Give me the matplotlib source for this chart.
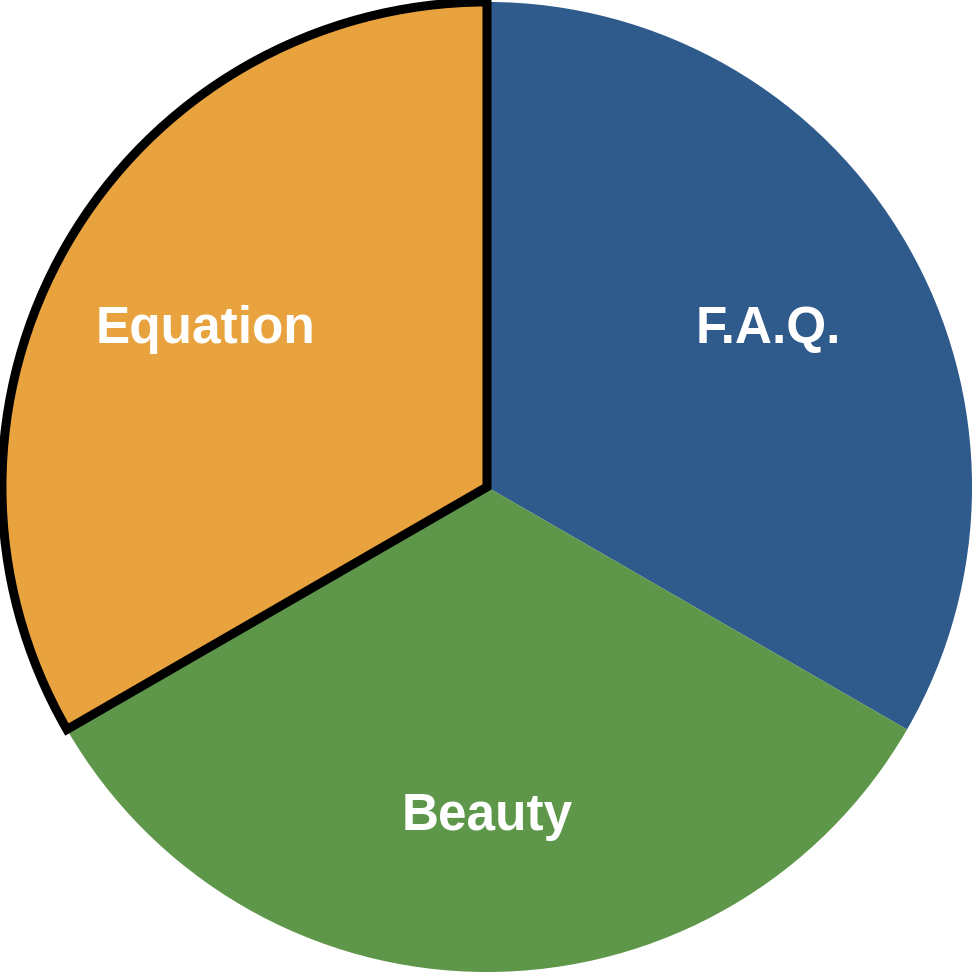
import matplotlib.pyplot as plt

labels = ['F.A.Q.', 'Beauty', 'Equation']
values = [1, 1, 1]
colors = ['#2E5A8C', '#5E974A', '#E8A23E']

fig = plt.figure(figsize=(9.73, 9.72), dpi=100)
ax = fig.add_axes([0, 0, 1, 1])

wedges, texts = ax.pie(values, labels=labels, colors=colors, startangle=90,
                       counterclock=False, labeldistance=0.67, radius=1.0,
                       textprops=dict(color='white', fontsize=37, fontweight='bold',
                                      family='Liberation Sans'))
for t in texts:
    t.set_ha('center')
    t.set_va('center')
    x, y = t.get_position()
    t.set_position((x, y - 0.01))

# outline around the Equation slice
wedges[2].set_edgecolor('black')
wedges[2].set_linewidth(6.5)
wedges[2].set_joinstyle('miter')
wedges[2].set_zorder(3)

ax.set_xlim(-1.004, 1.002)
ax.set_ylim(-1.0, 1.004)
ax.set_aspect('auto')
ax.axis('off')

fig.savefig('out.png', dpi=100)
